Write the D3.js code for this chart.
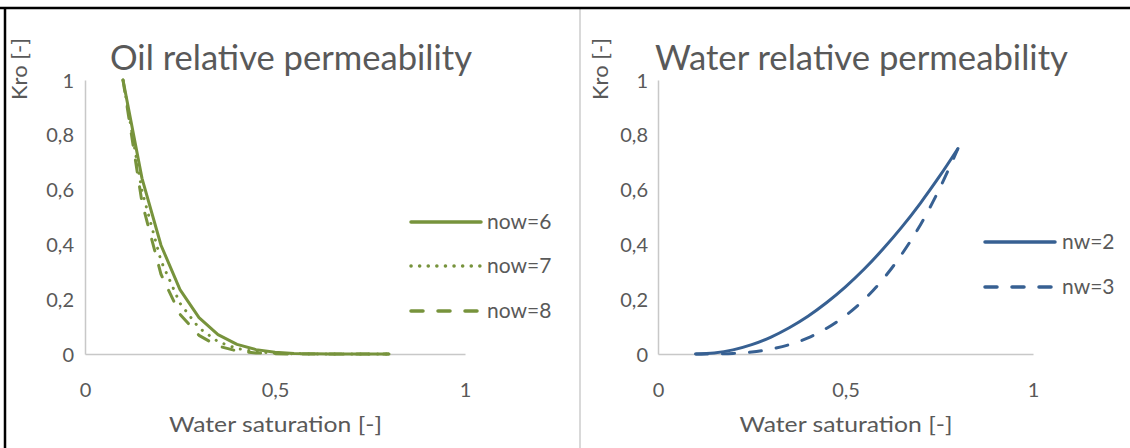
<!DOCTYPE html>
<html><head><meta charset="utf-8">
<script src="https://cdn.jsdelivr.net/npm/d3@7"></script>
<style>html,body{margin:0;padding:0;background:#fff;} svg{display:block;font-family:Lato,"Open Sans",sans-serif;}</style>
</head><body><svg id="c" width="1130" height="448"></svg>
<script>
// ---- data ----
const swValues = [0.10,0.15,0.20,0.25,0.30,0.35,0.40,0.45,0.50,0.55,0.60,0.65,0.70,0.75,0.80];
const kroNow6 = [1.000,0.641,0.397,0.235,0.133,0.071,0.035,0.016,0.006,0.002,0.001,0,0,0,0];
const kroNow7 = [1.000,0.595,0.340,0.185,0.095,0.045,0.020,0.008,0.003,0.001,0,0,0,0,0];
const kroNow8 = [1.000,0.553,0.291,0.145,0.068,0.029,0.011,0.004,0.001,0,0,0,0,0,0];
const krwNw2 = [0,0.004,0.015,0.034,0.061,0.096,0.138,0.188,0.245,0.310,0.383,0.463,0.551,0.647,0.750];
const krwNw3 = [0,0.000,0.002,0.007,0.018,0.034,0.059,0.094,0.140,0.199,0.273,0.364,0.472,0.601,0.750];
const xTicks = [0,0.5,1];
const xTickLabels = ["0","0,5","1"];
const yTicks = [0,0.2,0.4,0.6,0.8,1];
const yTickLabels = ["0","0,2","0,4","0,6","0,8","1"];
const oilNames = ["now=6","now=7","now=8"];
const waterNames = ["nw=2","nw=3"];
const chartTitles = ["Oil relative permeability","Water relative permeability"];
const xTitle = "Water saturation [-]";
const yTitle = "Kro [-]";

const svg = d3.select("#c");
const TXT = "#595959";
const GREEN = "#77933C", BLUE = "#376092";

svg.append("rect").attr("width",1130).attr("height",448).attr("fill","#fff");

const styles = {
  solid: {dash:null},
  dot: {dash:"0.1,8.5"},
  dash: {dash:"12,15"}
};

const panels = [
  {x0:85, x1:465, titleX:110, titleW:362, yLabX:19, tickR:74, legX0:411, legX1:481, legTx:487,
   legY:[222,266,311], color:GREEN, names:oilNames, series:[kroNow6,kroNow7,kroNow8],
   sty:["solid","dot","dash"], curve:d3.curveLinear, title:chartTitles[0]},
  {x0:658, x1:1033, titleX:655, titleW:413, yLabX:600, tickR:648, legX0:985, legX1:1055, legTx:1062,
   legY:[242,287], color:BLUE, names:waterNames, series:[krwNw2,krwNw3],
   sty:["solid","dash"], curve:d3.curveCatmullRom, title:chartTitles[1]}
];

function fit(sel, w){
  const n = sel.node();
  const l = n.getComputedTextLength();
  if (Math.abs(l-w) > 1) sel.attr("textLength", w).attr("lengthAdjust","spacingAndGlyphs");
}

panels.forEach(p => {
  const x = d3.scaleLinear().domain([0,1]).range([p.x0,p.x1]);
  const y = d3.scaleLinear().domain([0,1]).range([354,80]);
  const g = svg.append("g");

  const yAx = g.append("g").attr("transform",`translate(${p.x0},0)`)
    .call(d3.axisLeft(y).tickValues(yTicks).tickSize(0).tickPadding(0).tickFormat((d,i)=>yTickLabels[i]));
  yAx.select(".domain").attr("stroke","#c8c8c8").attr("stroke-width",1.5);
  yAx.selectAll("text").attr("x", p.tickR - p.x0).attr("dy","0.35em").attr("fill",TXT)
     .attr("font-size",20).attr("font-family","Lato,sans-serif").attr("text-anchor","end");

  const xAx = g.append("g").attr("transform",`translate(0,354)`)
    .call(d3.axisBottom(x).tickValues(xTicks).tickSize(0).tickPadding(0).tickFormat((d,i)=>xTickLabels[i]));
  xAx.select(".domain").attr("stroke","#c8c8c8").attr("stroke-width",1.5);
  xAx.selectAll("text").attr("y", 36).attr("dy","0.35em").attr("fill",TXT)
     .attr("font-size",20).attr("font-family","Lato,sans-serif");

  const t = g.append("text").attr("x",p.titleX).attr("y",70).attr("fill",TXT)
    .attr("font-size",35).attr("font-weight",400).text(p.title);
  fit(t, p.titleW);

  const xt = g.append("text").attr("x",(p.x0+p.x1)/2 - 106).attr("y",432)
    .attr("fill",TXT).attr("font-size",22).text(xTitle);
  fit(xt, 213);
  const yt = g.append("text").attr("transform",`translate(${p.yLabX+8},100) rotate(-90)`)
    .attr("fill",TXT).attr("font-size",22).text(yTitle);
  fit(yt, 62);

  const line = d3.line().x((d,i)=>x(swValues[i])).y(d=>y(d)).curve(p.curve);
  p.series.forEach((s,k) => {
    const st = styles[p.sty[k]];
    g.append("path").datum(s).attr("d",line).attr("fill","none")
      .attr("stroke",p.color).attr("stroke-width",3)
      .attr("stroke-linecap", st.dash ? "round":"butt").attr("stroke-linejoin","round")
      .attr("stroke-dasharray", st.dash);
    const ly = p.legY[k];
    g.append("line").attr("x1",p.legX0).attr("x2",p.legX1).attr("y1",ly).attr("y2",ly)
      .attr("stroke",p.color).attr("stroke-width",3.5)
      .attr("stroke-linecap","round").attr("stroke-dasharray", st.dash);
    g.append("text").attr("x",p.legTx).attr("y",ly).attr("dy","0.35em").attr("fill",TXT)
      .attr("font-size",21).text(p.names[k]);
  });
});

svg.append("line").attr("x1",580).attr("x2",580).attr("y1",9).attr("y2",448).attr("stroke","#d9d9d9").attr("stroke-width",2);
svg.append("line").attr("x1",0).attr("x2",1130).attr("y1",8).attr("y2",8).attr("stroke","#000").attr("stroke-width",2.5);
svg.append("line").attr("x1",5).attr("x2",5).attr("y1",7).attr("y2",448).attr("stroke","#000").attr("stroke-width",2.5);
</script></body></html>
